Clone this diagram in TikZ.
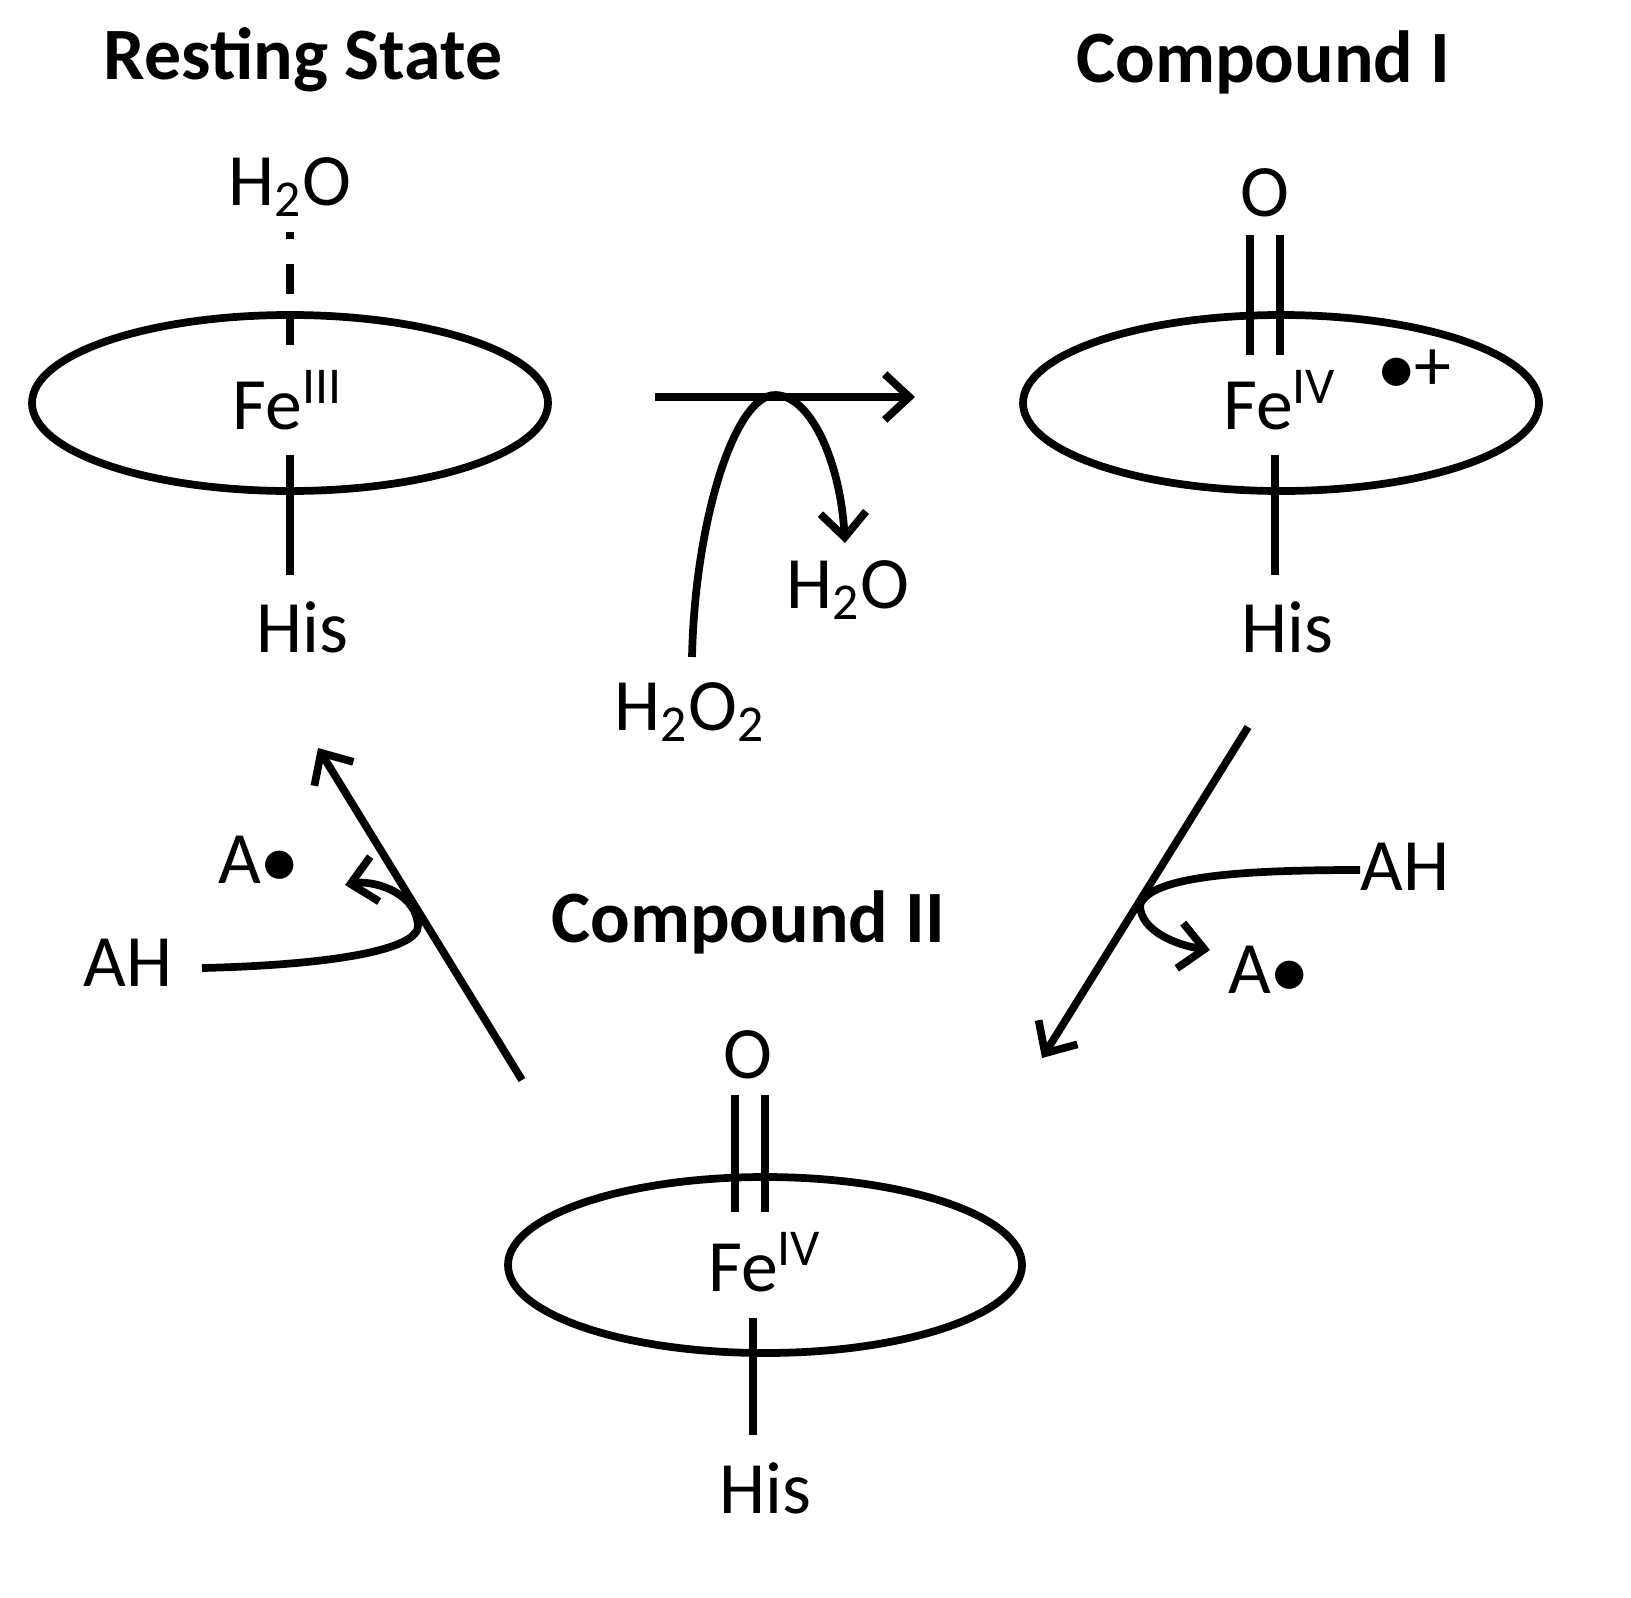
\documentclass[tikz,border=0pt]{standalone}
\usepackage{fontspec}
\setmainfont{Carlito}
\usetikzlibrary{arrows.meta}
\begin{document}
\begin{tikzpicture}[x=0.01cm,y=-0.01cm,
  lw/.style={line width=2.2pt},
  ring/.style={lw,draw},
  lbl/.style={font=\fontsize{21}{24}\selectfont,inner sep=0},
  ttl/.style={font=\bfseries\fontsize{21}{24}\selectfont,inner sep=0},
  arr/.style={lw,-{Straight Barb[length=7pt,width=13pt,line width=2.2pt]}}]
\useasboundingbox (0,0) rectangle (1631,1597);
% titles
\node[ttl] (t1) at (303,60) {Resting State};
\node[ttl] (t2) at (1263,62) {Compound I};
\node[ttl] (t3) at (748,922) {Compound II};
% Resting state
\draw[ring] (290,403) ellipse [x radius=258,y radius=88];
\node[lbl] (w1) at (290,187) {H\textsubscript{2}O};
\draw[lw,dash pattern=on 2pt off 7pt on 8.5pt off 6pt on 8.5pt off 6pt on 40pt] (290,232) -- (290,350);
\node[lbl] (fe1) at (288,400) {Fe\textsuperscript{III}};
\draw[lw] (290,455) -- (290,575);
\node[lbl] (his1) at (302,627) {His};
% Compound I
\draw[ring] (1281,403) ellipse [x radius=258,y radius=88];
\node[lbl] (o2) at (1265,193) {O};
\draw[lw] (1250,235) -- (1250,355) (1280,235) -- (1280,355);
\node[lbl] (fe2) at (1280,400) {Fe\textsuperscript{IV}};
\node[lbl] (rad) at (1415,370) {$\bullet$+};
\draw[lw] (1275,455) -- (1275,575);
\node[lbl] (his2) at (1287,627) {His};
% Compound II
\draw[ring] (765,1265) ellipse [x radius=257,y radius=88];
\node[lbl] (o3) at (748,1055) {O};
\draw[lw] (735,1095) -- (735,1212) (765,1095) -- (765,1212);
\node[lbl] (fe3) at (765,1262) {Fe\textsuperscript{IV}};
\draw[lw] (753,1318) -- (753,1435);
\node[lbl] (his3) at (765,1488) {His};
% step 1
\coordinate (a1s) at (655,397);
\coordinate (a1e) at (915,397);
\draw[arr] (a1s) -- (a1e);
\node[lbl] (h2o2) at (690,712) {H\textsubscript{2}O\textsubscript{2}};
\node[lbl] (h2o) at (848,590) {H\textsubscript{2}O};
\coordinate (c1s) at (692,657);
\coordinate (c1m) at (775,395);
\coordinate (c1e) at (845,543);
\draw[lw] (c1s) .. controls (695,520) and (735,395) .. (c1m);
\draw[arr] (c1m) .. controls (810,395) and (840,460) .. (c1e);
% step 2
\coordinate (a2s) at (1248,727);
\coordinate (a2e) at (1042,1058);
\draw[arr] (a2s) -- (a2e);
\node[lbl] (ah2) at (1405,867) {AH};
\node[lbl] (ar2) at (1268,970) {A$\bullet$};
\coordinate (c2s) at (1360,870);
\coordinate (c2e) at (1210,950);
\draw[arr] (c2s) .. controls (1250,870) and (1150,875) .. (1140,905) .. controls (1140,930) and (1175,945) .. (c2e);
% step 3
\coordinate (a3s) at (522,1080);
\coordinate (a3e) at (318,748);
\draw[arr] (a3s) -- (a3e);
\node[lbl] (ah3) at (128,963) {AH};
\node[lbl] (ar3) at (258,860) {A$\bullet$};
\coordinate (c3s) at (202,968);
\coordinate (c3e) at (345,885);
\draw[arr] (c3s) .. controls (330,965) and (420,950) .. (418,925) .. controls (415,890) and (370,880) .. (c3e);
\end{tikzpicture}
\end{document}
